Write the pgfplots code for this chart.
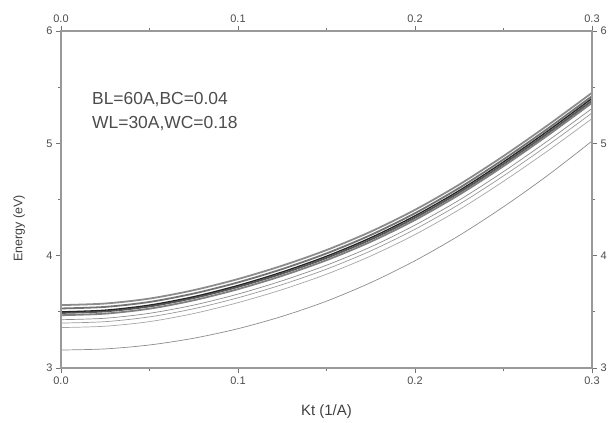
\documentclass[border=0pt]{standalone}
\usepackage{fontspec}
\setmainfont{Liberation Sans}
\usepackage{pgfplots}
\pgfplotsset{compat=1.18}
\begin{document}
\begin{tikzpicture}
\pgfplotsset{
  base/.style={
    scale only axis, width=531bp, height=337bp,
    at={(0,0)}, anchor=south west,
    xmin=0, xmax=0.3, ymin=3, ymax=6,
    xtick={0,0.1,0.2,0.3}, ytick={3,4,5,6},
    minor x tick num=1, minor y tick num=1,
    tick align=outside,
    major tick length=5bp, minor tick length=3bp,
    axis line style={draw=black!40, line width=1.6bp},
    every tick/.style={draw=black!55, line width=0.8bp},
    tick label style={font=\fontsize{11}{13}\selectfont, text=black!70},
    /pgf/number format/assume math mode=true,
    x tick label style={/pgf/number format/.cd, fixed, fixed zerofill, precision=1, /tikz/.cd},
    xtick pos=both, ytick pos=both,
  }
}
\begin{axis}[base,
  xlabel={Kt (1/A)}, ylabel={Energy (eV)},
  xlabel style={at={(axis description cs:0.5,-0.1306)}, anchor=center, font=\fontsize{15}{17}\selectfont, text=black!75},
  ylabel style={at={(axis description cs:-0.079,0.415)}, anchor=center, font=\fontsize{12.5}{14}\selectfont, text=black!75},
]
% bottom curve
\addplot[smooth, draw=black!45, line width=0.7bp] coordinates {
(0,3.16) (0.025,3.17) (0.05,3.205) (0.075,3.265) (0.1,3.35) (0.125,3.46) (0.15,3.595) (0.175,3.76) (0.2,3.955) (0.225,4.18) (0.25,4.435) (0.275,4.715) (0.3,5.02)};
% lower thin lines
\addplot[smooth, draw=black!35, line width=0.7bp] coordinates {
(0,3.36) (0.025,3.372) (0.05,3.413) (0.075,3.485) (0.1,3.582) (0.125,3.698) (0.15,3.835) (0.175,3.997) (0.2,4.188) (0.225,4.41) (0.25,4.662) (0.275,4.933) (0.3,5.22)};
\addplot[smooth, draw=black!40, line width=0.7bp] coordinates {
(0,3.40) (0.025,3.4125) (0.05,3.455) (0.075,3.5275) (0.1,3.625) (0.125,3.7425) (0.15,3.88) (0.175,4.0425) (0.2,4.235) (0.225,4.4575) (0.25,4.71) (0.275,4.9825) (0.3,5.27)};
\addplot[smooth, draw=black!45, line width=0.7bp] coordinates {
(0,3.43) (0.025,3.443) (0.05,3.487) (0.075,3.56) (0.1,3.658) (0.125,3.777) (0.15,3.915) (0.175,4.078) (0.2,4.272) (0.225,4.495) (0.25,4.748) (0.275,5.022) (0.3,5.31)};
% band
\addplot[smooth, draw=black!45, line width=1.8bp] coordinates {
(0,3.56) (0.025,3.574) (0.05,3.618) (0.075,3.693) (0.1,3.792) (0.125,3.911) (0.15,4.05) (0.175,4.214) (0.2,4.408) (0.225,4.633) (0.25,4.887) (0.275,5.161) (0.3,5.45)};
\addplot[smooth, draw=black!55, line width=1.8bp] coordinates {
(0,3.53) (0.025,3.544) (0.05,3.588) (0.075,3.663) (0.1,3.762) (0.125,3.881) (0.15,4.02) (0.175,4.184) (0.2,4.378) (0.225,4.603) (0.25,4.857) (0.275,5.131) (0.3,5.42)};
\addplot[smooth, draw=black!50, line width=1.8bp] coordinates {
(0,3.47) (0.025,3.484) (0.05,3.528) (0.075,3.603) (0.1,3.702) (0.125,3.821) (0.15,3.96) (0.175,4.124) (0.2,4.318) (0.225,4.543) (0.25,4.797) (0.275,5.071) (0.3,5.36)};
\addplot[smooth, draw=black!65, line width=1.8bp] coordinates {
(0,3.49) (0.025,3.504) (0.05,3.548) (0.075,3.623) (0.1,3.722) (0.125,3.841) (0.15,3.98) (0.175,4.144) (0.2,4.338) (0.225,4.563) (0.25,4.817) (0.275,5.091) (0.3,5.38)};
\addplot[smooth, draw=black!85, line width=1.3bp] coordinates {
(0,3.50) (0.025,3.515) (0.05,3.56) (0.075,3.635) (0.1,3.735) (0.125,3.855) (0.15,3.995) (0.175,4.16) (0.2,4.355) (0.225,4.58) (0.25,4.835) (0.275,5.11) (0.3,5.40)};
\node[anchor=west, font=\fontsize{17.5}{20}\selectfont, text=black!70, inner sep=0pt] at (axis cs:0.0175,5.386) {BL=60A,BC=0.04};
\node[anchor=west, font=\fontsize{17.5}{20}\selectfont, text=black!70, inner sep=0pt] at (axis cs:0.0175,5.18) {WL=30A,WC=0.18};
\end{axis}
\begin{axis}[base, xticklabel pos=upper, yticklabel pos=right, xtick pos=both, ytick pos=both]
\end{axis}
\pgfresetboundingbox
\path[use as bounding box] (-61bp,-55bp) rectangle (555bp,368bp);
\end{tikzpicture}
\end{document}
